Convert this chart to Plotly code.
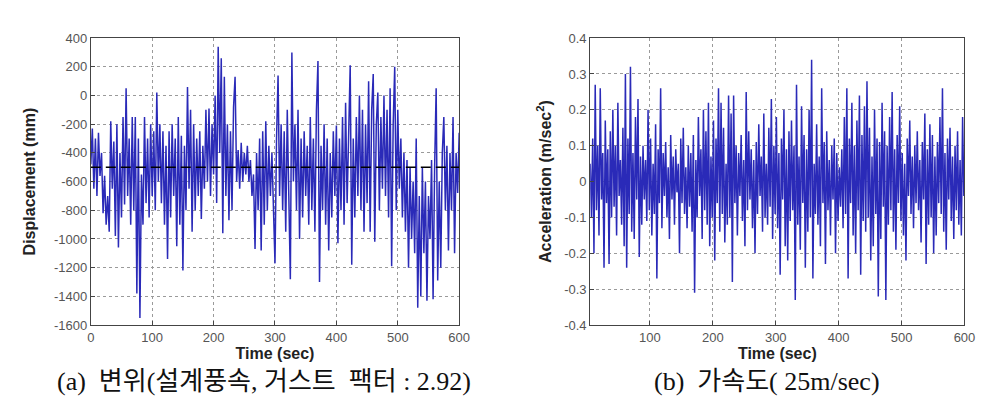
import plotly.graph_objects as go

# ---------------- data ----------------
disp_dt = 2.5
displacement_mm = [
    -480, -230, -650, -300, -700, -260, -560, -400, -820, -560,
    -900, -700, -950, -180, -650, -320, -980, -200, -1060, -400,
    -850, -150, -760, 50, -700, -300, -900, -150, -800, -150,
    -1380, -300, -1550, -550, -900, -150, -750, -300, -850, -200,
    -700, -250, -800, 20, -600, -200, -750, -250, -900, -350,
    -1140, -250, -850, -200, -700, -300, -1050, -150, -900, -280,
    -1220, -350, -800, 60, -650, -100, -950, -200, -800, -300,
    -700, -250, -860, -350, -650, -100, -600, -90, -700, -200,
    -550, 0, -750, 340, -400, 260, -960, 130, -700, -200,
    -870, -250, -800, -80, 130, -600, -380, -650, -330, -600,
    -400, -550, -350, -600, -450, -700, -550, -1070, -400, -800,
    -300, -1080, -250, -900, -180, -800, -350, -700, -400, -850,
    -1170, -300, 140, -700, -200, -800, -250, -950, -100, -700,
    -1280, 300, -600, -200, -800, -100, -1000, -300, -850, -250,
    -700, -350, -900, -150, -800, -300, -950, -100, 240, -1300,
    -350, -800, -200, -900, -300, -1080, -400, -850, -250, -700,
    -210, -1030, -300, -800, -150, -900, -50, -750, -200, 210,
    -1180, -300, -850, -150, -700, 0, -800, -100, -950, -200,
    -750, 100, -950, -100, 150, -1020, -200, 20, -800, -150,
    -650, 0, -700, -100, -850, 50, -1190, -200, 200, -800,
    -100, -650, -300, -850, -400, -950, -450, -1200, -500, -1000,
    -600, -1100, -300, -1480, -700, -1400, -500, -1100, -600, -1430,
    -700, -1000, -450, -1420, -500, 50, -1290, -600, -1200, -400,
    -150, -800, -350, -1080, -400, -800, -150, -1100, -400, -680,
    -260,
]
disp_mean_mm = -500

acc_t0 = 5
acc_dt = 2
acceleration = [
    0.05, -0.10, 0.12, -0.20, 0.27, -0.08, 0.10, -0.15, 0.26, -0.05,
    0.08, -0.24, 0.17, -0.06, 0.09, -0.23, 0.14, -0.10, 0.20, -0.07,
    0.10, -0.15, 0.22, -0.04, 0.06, -0.12, 0.15, -0.18, 0.30, -0.24,
    0.12, -0.09, 0.32, -0.14, 0.08, -0.16, 0.18, -0.05, 0.23, -0.21,
    0.07, -0.12, 0.10, -0.05, 0.06, -0.11, 0.20, -0.08, 0.12, -0.15,
    0.05, -0.09, 0.16, -0.27, 0.09, -0.06, 0.26, -0.13, 0.08, -0.04,
    0.11, -0.10, 0.04, -0.16, 0.13, -0.05, 0.07, -0.12, 0.09, -0.03,
    0.05, -0.20, 0.12, -0.06, 0.15, -0.09, 0.04, -0.13, 0.10, -0.07,
    0.08, -0.14, 0.13, -0.31, 0.06, -0.10, 0.18, -0.04, 0.09, -0.16,
    0.20, -0.08, 0.14, -0.12, 0.22, -0.18, 0.07, -0.10, 0.17, -0.22,
    0.12, -0.06, 0.26, -0.14, 0.22, -0.09, 0.15, -0.17, 0.05, -0.12,
    0.24, -0.10, 0.19, -0.28, 0.24, -0.06, 0.10, -0.15, 0.08, -0.04,
    0.13, -0.11, 0.06, -0.18, 0.25, -0.08, 0.14, -0.05, 0.09, -0.13,
    0.06, -0.20, 0.11, -0.09, 0.16, -0.04, 0.07, -0.14, 0.19, -0.10,
    0.05, -0.12, 0.15, -0.07, 0.23, -0.16, 0.10, -0.09, 0.18, -0.13,
    0.08, -0.26, 0.12, -0.05, 0.20, -0.18, 0.09, -0.22, 0.14, -0.11,
    0.17, -0.08, 0.10, -0.33, 0.27, -0.12, 0.07, -0.19, 0.21, -0.06,
    0.13, -0.24, 0.09, -0.14, 0.20, -0.10, 0.34, -0.27, 0.05, -0.09,
    0.16, -0.12, 0.07, -0.18, 0.26, -0.06, 0.11, -0.23, 0.14, -0.08,
    0.06, -0.15, 0.10, -0.05, 0.12, -0.20, 0.08, -0.11, 0.04, -0.07,
    0.09, -0.13, 0.18, -0.09, 0.26, -0.27, 0.12, -0.06, 0.22, -0.15,
    0.10, -0.20, 0.17, -0.08, 0.24, -0.26, 0.13, -0.11, 0.21, -0.14,
    0.28, -0.10, 0.15, -0.22, 0.07, -0.18, 0.20, -0.09, 0.12, -0.32,
    0.11, -0.16, 0.22, -0.07, 0.14, -0.33, 0.10, -0.12, 0.18, -0.08,
    0.25, -0.14, 0.09, -0.19, 0.13, -0.06, 0.21, -0.11, 0.08, -0.15,
    0.05, -0.22, 0.12, -0.04, 0.17, -0.09, 0.07, -0.13, 0.10, -0.06,
    0.14, -0.08, 0.06, -0.17, 0.11, -0.05, 0.19, -0.23, 0.09, -0.12,
    0.16, -0.10, 0.13, -0.20, 0.07, -0.15, 0.11, -0.06, 0.18, -0.09,
    0.26, -0.14, 0.08, -0.19, 0.12, -0.05, 0.15, -0.11, 0.07, -0.16,
    0.10, -0.08, 0.14, -0.12, 0.06, -0.15, 0.18, -0.04,
]

disp_xticks = [0, 100, 200, 300, 400, 500, 600]
disp_yticks = [400, 200, 0, -200, -400, -600, -800, -1000, -1200, -1400, -1600]
acc_xticks = [100, 200, 300, 400, 500, 600]
acc_yticks = [0.4, 0.3, 0.2, 0.1, 0, -0.1, -0.2, -0.3, -0.4]
acc_yticklabels = ["0.4", "0.3", "0.2", "0.1", "0", "-0.1", "-0.2", "-0.3", "-0.4"]
disp_yticklabels = [str(v) for v in disp_yticks]

caption_a = "(a)  변위(설계풍속, 거스트  팩터 : 2.92)"
caption_b = "(b)  가속도( 25m/sec)"

t_disp = [i * disp_dt for i in range(len(displacement_mm))]
t_acc = [acc_t0 + i * acc_dt for i in range(len(acceleration))]

# ---------------- figure ----------------
W, H = 999, 405
LINE = "#2a2ab8"
fig = go.Figure()

fig.add_trace(go.Scatter(x=t_disp, y=displacement_mm, mode="lines",
                         line=dict(color=LINE, width=1.5),
                         xaxis="x", yaxis="y", showlegend=False))
fig.add_trace(go.Scatter(x=[t_disp[0], t_disp[-1]], y=[disp_mean_mm, disp_mean_mm],
                         mode="lines", line=dict(color="black", width=1.5, dash="10px,5px"),
                         xaxis="x", yaxis="y", showlegend=False))
fig.add_trace(go.Scatter(x=t_acc, y=acceleration, mode="lines",
                         line=dict(color=LINE, width=1.5),
                         xaxis="x2", yaxis="y2", showlegend=False))

tickfont = dict(family="Liberation Sans, Arial", size=13, color="#555555")
titlefont = dict(family="Liberation Sans, Arial", size=16, color="#222222")
common = dict(showline=True, mirror=True, linecolor="#444444", linewidth=1,
              ticks="inside", ticklen=4, tickcolor="#444444",
              showgrid=True, gridcolor="#9a9a9a", griddash="dot", gridwidth=1,
              zeroline=False, tickfont=tickfont)

fig.update_layout(
    width=W, height=H,
    margin=dict(l=0, r=0, t=0, b=0),
    paper_bgcolor="white", plot_bgcolor="white",
    xaxis=dict(domain=[80 / W, 454 / W], range=[0, 600], tickvals=disp_xticks,
               anchor="y",
               title=dict(text="<b>Time (sec)</b>", font=titlefont, standoff=3), **common),
    yaxis=dict(domain=[(H - 322) / H, (H - 24) / H], range=[-1600, 400],
               tickvals=disp_yticks, ticktext=disp_yticklabels, anchor="x",
               title=dict(text="<b>Displacement (mm)</b>", font=titlefont, standoff=14), **common),
    xaxis2=dict(domain=[587 / W, 967 / W], range=[5, 600], tickvals=acc_xticks,
                anchor="y2",
                title=dict(text="<b>Time (sec)</b>", font=titlefont, standoff=3), **common),
    yaxis2=dict(domain=[(H - 322) / H, (H - 24) / H], range=[-0.4, 0.4],
                tickvals=acc_yticks, ticktext=acc_yticklabels, anchor="x2",
                title=dict(text="<b>Acceleration (m/sec<sup>2</sup>)</b>", font=titlefont, standoff=8),
                **common),
    annotations=[
        dict(text=caption_a, x=256 / W, y=1 - 381 / H, xref="paper", yref="paper",
             showarrow=False, xanchor="center", yanchor="middle",
             font=dict(family="Liberation Serif, Noto Sans CJK KR", size=26, color="#111111")),
        dict(text=caption_b, x=767 / W, y=1 - 381 / H, xref="paper", yref="paper",
             showarrow=False, xanchor="center", yanchor="middle",
             font=dict(family="Liberation Serif, Noto Sans CJK KR", size=26, color="#111111")),
    ],
)

fig.write_html("out.html")
